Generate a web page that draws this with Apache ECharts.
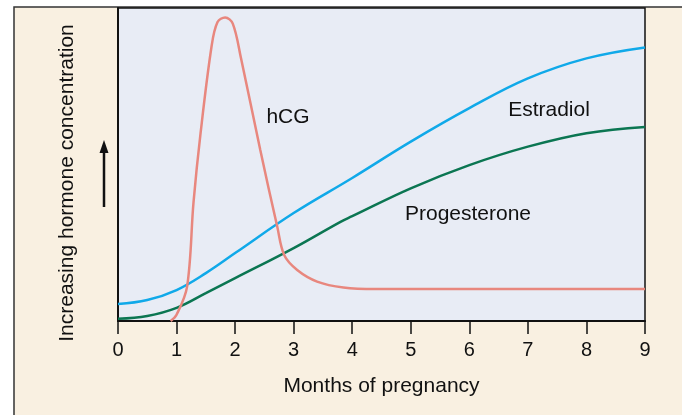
<!DOCTYPE html>
<html>
<head>
<meta charset="utf-8">
<script src="https://cdn.jsdelivr.net/npm/echarts@6/dist/echarts.min.js"></script>
<style>
  html, body { margin: 0; padding: 0; background: #fff; }
  #chart { width: 682px; height: 415px; }
</style>
</head>
<body>
<div id="chart"></div>
<script>
// month ticks on the x axis
var monthTicks = [0, 1, 2, 3, 4, 5, 6, 7, 8, 9];

// estradiol / progesterone, read at each month (relative units 0-100)
var estradiolMonths = [0, 0.5, 1, 1.5, 2, 3, 4, 5, 6, 7, 8, 9];
var estradiolLevel = [5.4, 6.7, 9.9, 15.3, 21.7, 34.5, 45.7, 57.3, 68, 77.5, 83.9, 87.4];

var progesteroneMonths = [0, 0.5, 1, 1.5, 2, 3, 3.8, 4, 5, 6, 7, 8, 9];
var progesteroneLevel = [0.7, 1.6, 4.2, 8.9, 13.7, 23.3, 31.7, 33.5, 42.4, 49.8, 55.7, 60, 62];

// hCG has a sharp peak, so more points around it
var hcgMonths = [0.9, 1.0, 1.18, 1.29, 1.41, 1.6, 1.7, 1.83, 1.96, 2.1, 2.43, 2.72, 2.84, 3.06, 3.4, 3.85, 4.4, 9];
var hcgLevel = [0, 2, 11, 38, 60, 88, 95.5, 97, 95, 84, 54.6, 30.1, 21, 16.3, 12.6, 10.7, 10.2, 10.2];

function pairs(xs, ys) {
  var out = [];
  for (var i = 0; i < xs.length; i++) {
    out.push([xs[i], ys[i]]);
  }
  return out;
}

var font = "'Liberation Sans', Arial, sans-serif";
var myChart = echarts.init(document.getElementById("chart"));
myChart.setOption({
  backgroundColor: "#fff",
  animation: false,
  graphic: [
    {
      // beige panel
      type: "rect",
      z: -10,
      shape: { x: 14, y: 7, width: 680, height: 420 },
      style: { fill: "#F9F0E1", stroke: "#333", lineWidth: 1.5 },
    },
    {
      type: "line",
      shape: { x1: 104, y1: 207, x2: 104, y2: 150 },
      style: { stroke: "#111", lineWidth: 2.5 },
    },
    {
      type: "polygon",
      shape: { points: [[104, 140], [99.5, 153], [108.5, 153]] },
      style: { fill: "#111" },
    },
    {
      type: "text",
      x: 67,
      y: 183,
      rotation: Math.PI / 2,
      style: {
        text: "Increasing hormone concentration",
        font: "21px " + font,
        fill: "#111",
        align: "center",
        verticalAlign: "middle",
      },
    },
    {
      type: "text",
      x: 288,
      y: 117,
      style: { text: "hCG", font: "21px " + font, fill: "#111", align: "center", verticalAlign: "middle" },
    },
    {
      type: "text",
      x: 549,
      y: 110,
      style: { text: "Estradiol", font: "21px " + font, fill: "#111", align: "center", verticalAlign: "middle" },
    },
    {
      type: "text",
      x: 468,
      y: 214,
      style: { text: "Progesterone", font: "21px " + font, fill: "#111", align: "center", verticalAlign: "middle" },
    },
  ],
  grid: {
    left: 118,
    right: 37,
    top: 8,
    bottom: 94,
    show: true,
    backgroundColor: "#E8ECF5",
    borderColor: "#111",
    borderWidth: 1.5,
  },
  xAxis: {
    type: "value",
    min: 0,
    max: 9,
    interval: 1,
    name: "Months of pregnancy",
    nameLocation: "middle",
    nameGap: 55,
    nameTextStyle: { fontSize: 21, color: "#111", fontFamily: font },
    axisLine: { lineStyle: { color: "#111", width: 2 } },
    axisTick: { length: 13, lineStyle: { color: "#111", width: 1.5 } },
    axisLabel: {
      fontSize: 20,
      color: "#111",
      fontFamily: font,
      margin: 19,
      formatter: function (v) {
        return monthTicks.indexOf(v) >= 0 ? String(v) : "";
      },
    },
    splitLine: { show: false },
  },
  yAxis: {
    type: "value",
    min: 0,
    max: 100,
    axisLine: { show: true, lineStyle: { color: "#111", width: 2 } },
    axisTick: { show: false },
    axisLabel: { show: false },
    splitLine: { show: false },
  },
  series: [
    {
      name: "Estradiol",
      type: "line",
      smooth: 0.4,
      symbol: "none",
      lineStyle: { color: "#10A9E9", width: 2.5 },
      data: pairs(estradiolMonths, estradiolLevel),
    },
    {
      name: "Progesterone",
      type: "line",
      smooth: 0.4,
      symbol: "none",
      lineStyle: { color: "#0B7652", width: 2.5 },
      data: pairs(progesteroneMonths, progesteroneLevel),
    },
    {
      name: "hCG",
      type: "line",
      smooth: 0.35,
      symbol: "none",
      lineStyle: { color: "#E8877E", width: 2.5 },
      data: pairs(hcgMonths, hcgLevel),
    },
  ],
});
</script>
</body>
</html>
